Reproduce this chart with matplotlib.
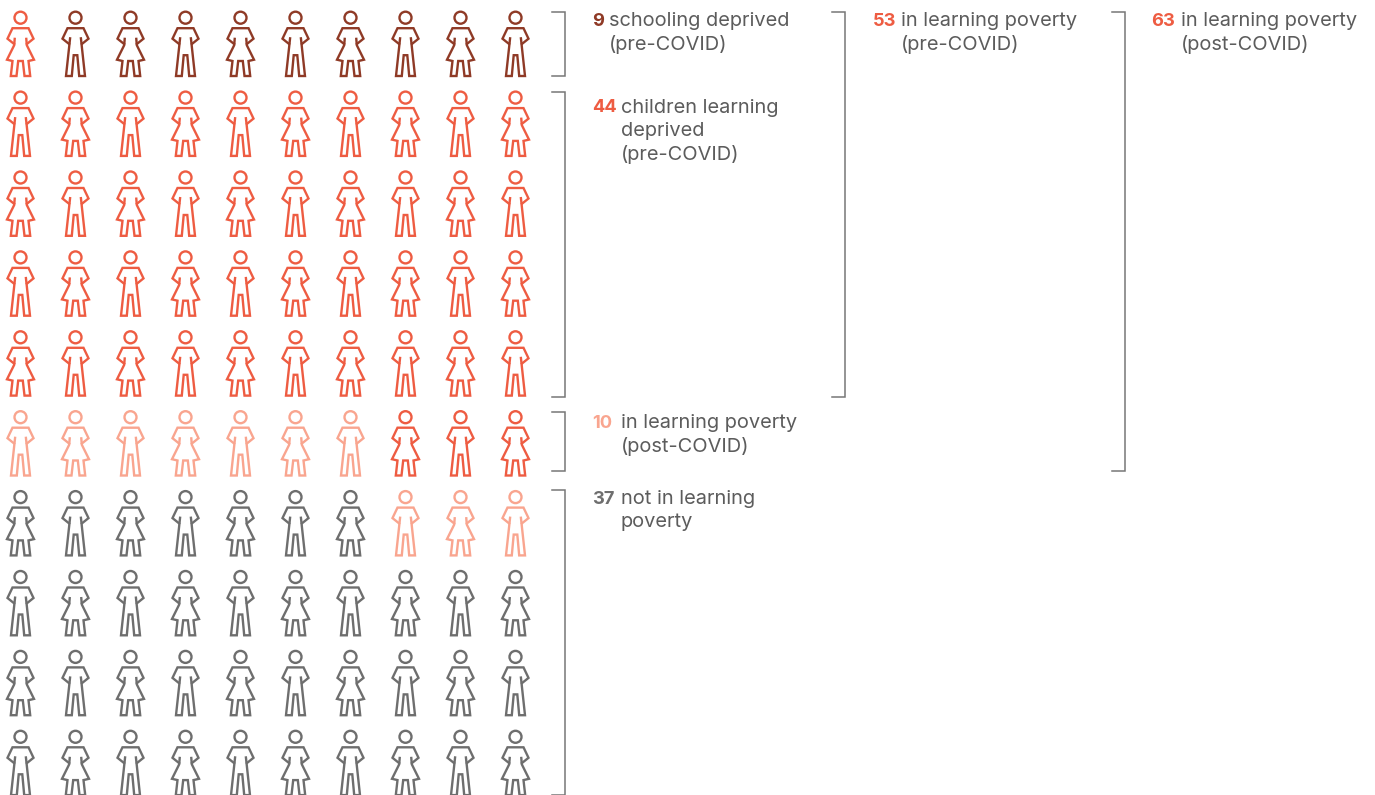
import matplotlib
matplotlib.use('Agg')
import matplotlib.pyplot as plt
from matplotlib.patches import Circle

plt.rcParams['font.family'] = ['Inter', 'DejaVu Sans']

# number of children per group, in the order the icons are filled
fill_order = ['learning', 'schooling', 'learning', 'post', 'not']
fill_counts = [1, 9, 43, 10, 37]

colors = {'schooling': '#8f3a26', 'learning': '#ee5c42', 'post': '#f9a58f', 'not': '#6e6e6e'}
text_gray = '#5c5c5c'

numbers = ['9', '44', '10', '37', '53', '63']
number_groups = ['schooling', 'learning', 'post', 'not', 'learning', 'learning']
labels = [
    ['schooling deprived', '(pre-COVID)'],
    ['children learning', 'deprived', '(pre-COVID)'],
    ['in learning poverty', '(post-COVID)'],
    ['not in learning', 'poverty'],
    ['in learning poverty', '(pre-COVID)'],
    ['in learning poverty', '(post-COVID)'],
]

# icon shapes, relative to centre of head
arms = [(-5.5, 27), (-13, 21), (-8, 10.5), (8, 10.5), (13, 21), (5.5, 27)]
boy_body = [(-5.3, 19.5), (-9.5, 58.3), (-3.7, 58.3), (-1.8, 37.5), (1.8, 37.5),
            (3.7, 58.3), (9.5, 58.3), (5.3, 19.5)]
girl_body = [(-5.7, 20), (-6.3, 27.5), (-13.5, 42), (-8, 43.3), (-9.7, 58.3), (-4, 58.3),
             (-2.3, 43.3), (2.3, 43.3), (4, 58.3), (9.7, 58.3), (8, 43.3), (13.5, 42),
             (6.3, 27.5), (5.7, 20)]

fig = plt.figure(figsize=(13.75, 7.95), dpi=100)
ax = fig.add_axes([0, 0, 1, 1])
ax.set_xlim(0, 1375)
ax.set_ylim(795, 0)
ax.axis('off')

lw = 1.7


def line(pts, x0, y0, c):
    ax.plot([p[0] + x0 for p in pts], [p[1] + y0 for p in pts], color=c, lw=lw,
            solid_joinstyle='miter', solid_capstyle='butt')


cells = []
for name, n in zip(fill_order, fill_counts):
    cells += [name] * n

for i, name in enumerate(cells):
    row = i // 10
    col = i % 10
    # lower rows fill from the right
    if row >= 5:
        col = 9 - col
    x0 = 20.5 + col * 55
    y0 = 17.7 + row * 79.9
    c = colors[name]
    ax.add_patch(Circle((x0, y0), 6, fill=False, ec=c, lw=lw))
    line(arms, x0, y0, c)
    if (row + col) % 2 == 0:
        line(girl_body, x0, y0, c)
    else:
        line(boy_body, x0, y0, c)

# brackets
bracket_x = [565, 565, 565, 565, 845, 1125]
bracket_top = [12, 92, 412, 490, 12, 12]
bracket_bottom = [76, 397, 471, 795, 397, 471]
for x, t, b in zip(bracket_x, bracket_top, bracket_bottom):
    ax.plot([x - 13, x, x, x - 13], [t, t, b, b], color='#777777', lw=1.1,
            solid_joinstyle='miter')

# labels
number_x = [592.5, 592.5, 592.5, 592.5, 872.5, 1151.5]
label_x = [609, 621, 621, 621, 901, 1181]
label_y = [21, 108, 423, 499, 21, 21]
for i in range(len(numbers)):
    ax.text(number_x[i], label_y[i], numbers[i], color=colors[number_groups[i]], fontsize=13.2,
            fontweight='bold', va='center', ha='left')
    for j, s in enumerate(labels[i]):
        ax.text(label_x[i], label_y[i] + j * 23, s, color=text_gray, fontsize=14.4, va='center', ha='left')

fig.savefig('out.png', dpi=100)
